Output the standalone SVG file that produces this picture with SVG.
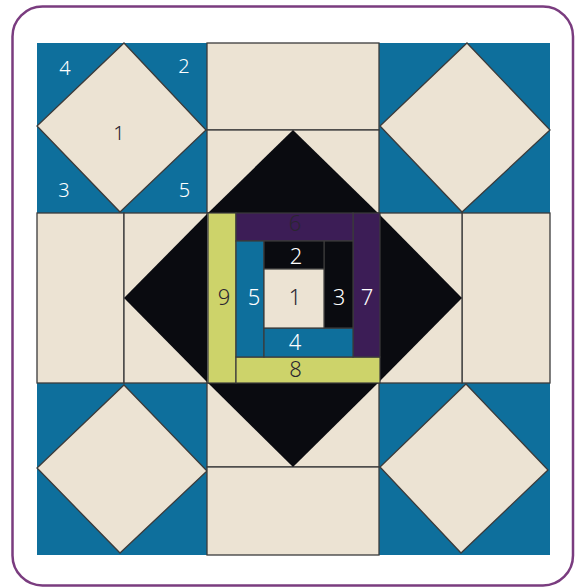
<svg xmlns="http://www.w3.org/2000/svg" width="582" height="588" viewBox="0 0 582 588">
<style>
.bl{fill:#0e6f9c}
.bg{fill:#ece3d3;stroke:#3b3b3b;stroke-width:1.3}
.bk{fill:#0a0b10}
.pu{fill:#3c1d56;stroke:#3b3b3b;stroke-width:1.2}
.gr{fill:#cdd36a;stroke:#3b3b3b;stroke-width:1.2}
.bp{fill:#0e6f9c;stroke:#3b3b3b;stroke-width:1.2}
.kp{fill:#0a0b10;stroke:#3b3b3b;stroke-width:1.2}
.cp{fill:#ece3d3;stroke:#3b3b3b;stroke-width:1.2}
text{font-family:"Noto Sans","Liberation Sans",sans-serif;text-anchor:middle;font-weight:300}
.w{fill:#ffffff;font-size:20px}
.d{fill:#2a2630;font-size:20px}
.wc{fill:#ffffff;font-size:22px}
.dc{fill:#2a2630;font-size:22px}
</style>
<rect x="0" y="0" width="582" height="588" fill="#ffffff"/>
<rect id="frame" x="12.5" y="6.5" width="560.5" height="579" rx="30" ry="30" fill="none" stroke="#7a3c7f" stroke-width="2.5"/>

<g id="corner-tl">
<rect class="bl" x="37" y="43" width="170" height="170"/>
<polygon class="bg" points="124,43 206,130 120,212 37,126"/>
<text class="w" x="65" y="75">4</text>
<text class="w" x="184" y="73">2</text>
<text class="d" x="119" y="140">1</text>
<text class="w" x="64" y="197">3</text>
<text class="w" x="184.5" y="197">5</text>
</g>
<g id="corner-tr">
<rect class="bl" x="379" y="43" width="171" height="170"/>
<polygon class="bg" points="467,43 550,130 462,212 380,126"/>
</g>
<g id="corner-bl">
<rect class="bl" x="37" y="383" width="170" height="172"/>
<polygon class="bg" points="124,385 207,471 120,553 37,468"/>
</g>
<g id="corner-br">
<rect class="bl" x="379" y="383" width="171" height="172"/>
<polygon class="bg" points="466,384 548,470 461,553 380,467"/>
</g>

<g id="mid-top">
<rect class="bg" x="207" y="43" width="172" height="87"/>
<rect class="bg" x="207" y="130" width="172" height="83"/>
<polygon class="bk" points="293,130 208,213 378,213"/>
</g>
<g id="mid-left">
<rect class="bg" x="37" y="213" width="87" height="170"/>
<rect class="bg" x="124" y="213" width="83" height="170"/>
<polygon class="bk" points="124,298 207,214 207,382"/>
</g>
<g id="mid-right">
<rect class="bg" x="462" y="213" width="88" height="170"/>
<rect class="bg" x="379" y="213" width="83" height="170"/>
<polygon class="bk" points="462,298 379,214 379,382"/>
</g>
<g id="mid-bottom">
<rect class="bg" x="207" y="383" width="172" height="84"/>
<rect class="bg" x="207" y="467" width="172" height="88"/>
<polygon class="bk" points="208,383 378,383 293,467"/>
</g>

<g id="center">
<rect class="gr" x="208" y="213" width="28" height="170"/>
<rect class="gr" x="236" y="357" width="144" height="26"/>
<rect class="pu" x="353" y="213" width="27" height="144"/>
<rect class="pu" x="236" y="213" width="117" height="28"/>
<rect class="bp" x="236" y="241" width="28" height="116"/>
<rect class="bp" x="264" y="328" width="89" height="29"/>
<rect class="kp" x="324" y="241" width="29" height="87"/>
<rect class="kp" x="264" y="241" width="60" height="28"/>
<rect class="cp" x="264" y="269" width="60" height="59"/>
<text class="dc" x="295" y="231">6</text>
<text class="wc" x="296" y="264">2</text>
<text class="dc" x="295" y="305">1</text>
<text class="wc" x="339" y="305">3</text>
<text class="wc" x="367" y="305">7</text>
<text class="dc" x="224" y="305">9</text>
<text class="wc" x="254" y="305">5</text>
<text class="wc" x="295" y="350">4</text>
<text class="dc" x="295.5" y="377">8</text>
</g>
<g id="connectors"></g>
</svg>
